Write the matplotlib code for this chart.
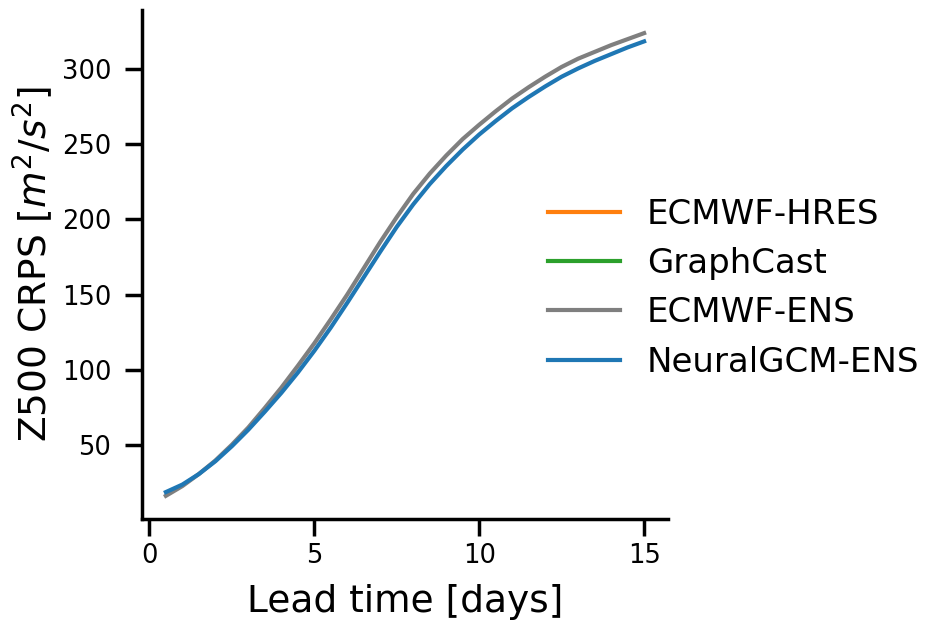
import numpy as np
import matplotlib.pyplot as plt

plt.rcParams["font.family"] = ["DejaVu Sans"]

# lead time in days (12-hourly)
lead_days = [0.5, 1.0, 1.5, 2.0, 2.5, 3.0, 3.5, 4.0, 4.5, 5.0,
             5.5, 6.0, 6.5, 7.0, 7.5, 8.0, 8.5, 9.0, 9.5, 10.0,
             10.5, 11.0, 11.5, 12.0, 12.5, 13.0, 13.5, 14.0, 14.5, 15.0]

# Z500 CRPS [m^2/s^2]
ecmwf_ens = [16.0, 22.5, 30.5, 39.5, 50.0, 61.5, 74.5, 88.0, 102.5, 117.5,
             133.5, 150.0, 167.5, 185.0, 201.5, 217.0, 230.5, 242.5, 253.5, 263.0,
             272.0, 280.5, 288.0, 295.0, 301.5, 307.0, 311.5, 316.0, 320.0, 324.0]
neuralgcm_ens = [18.5, 23.5, 30.5, 39.0, 49.0, 60.0, 72.0, 84.5, 98.0, 112.5,
                 128.0, 144.5, 161.5, 178.5, 195.0, 210.0, 223.5, 235.5, 246.5, 256.5,
                 265.5, 274.0, 281.5, 288.5, 295.0, 300.5, 305.5, 310.0, 314.5, 318.5]

fig = plt.figure(figsize=(9.26, 6.21), dpi=100)
ax = fig.add_axes([0.1533, 0.1643, 0.5681, 0.8196])

# deterministic models are not part of the CRPS panel, only in the legend
ax.plot([], [], color="#ff7f0e", lw=3, label="ECMWF-HRES")
ax.plot([], [], color="#2ca02c", lw=3, label="GraphCast")
ax.plot(lead_days, ecmwf_ens, color="#7f7f7f", lw=3, label="ECMWF-ENS")
ax.plot(lead_days, neuralgcm_ens, color="#1f77b4", lw=3, label="NeuralGCM-ENS")

ax.set_xticks([0, 5, 10, 15])
ax.set_yticks([50, 100, 150, 200, 250, 300])

for side in ["top", "right"]:
    ax.spines[side].set_visible(False)
for side in ["left", "bottom"]:
    ax.spines[side].set_linewidth(2.5)

ax.tick_params(axis="both", length=12, width=2.5, labelsize=18.5)
ax.tick_params(axis="y", pad=10)
ax.tick_params(axis="x", pad=5)

ax.set_xlabel("Lead time [days]", fontsize=27, labelpad=11)
ax.set_ylabel(r"Z500 CRPS [$m^2/s^2$]", fontsize=27, labelpad=5)

fig.legend(loc="center left", bbox_to_anchor=(0.592, 0.536), frameon=False,
           fontsize=24.5, handlelength=2.1, handletextpad=0.8, labelspacing=0.48,
           borderpad=0, borderaxespad=0)

plt.savefig("out.png", dpi=100)
plt.close()
